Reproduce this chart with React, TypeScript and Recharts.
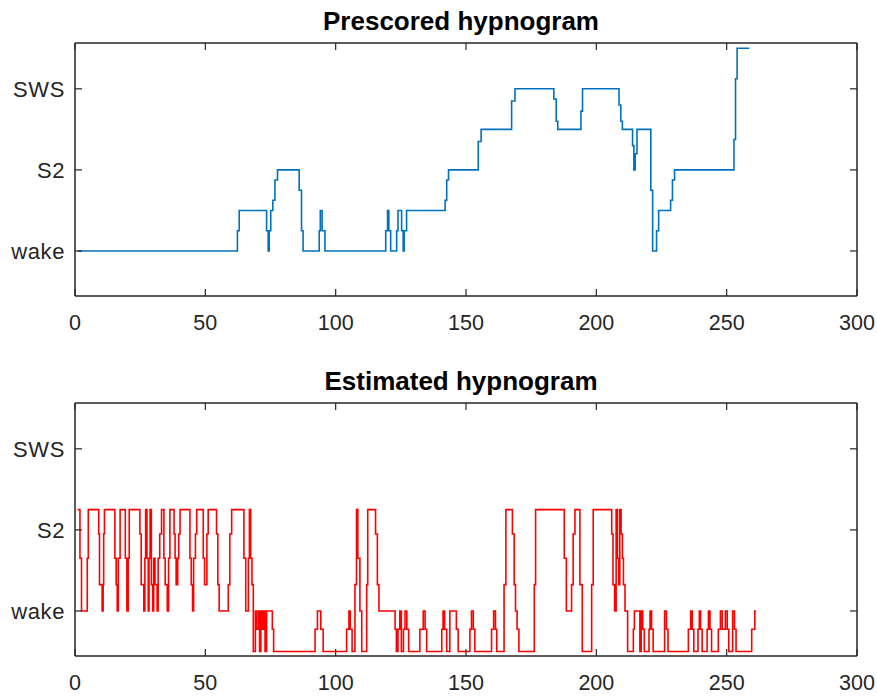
import { Line, LineChart, XAxis, YAxis } from "recharts";

const xTicks = [0, 50, 100, 150, 200, 250, 300];
const stageTicks = [0, 2, 4];
const stageLabels = ["wake", "S2", "SWS"];

// prescored hypnogram (blue), step breakpoints: time, stage
const prescoredTime = [
  1, 62.3, 63.0, 73.5, 74.1, 74.5, 75.1, 75.9, 76.7, 77.7, 86.0, 86.9, 87.5, 93.7, 94.1, 94.8, 95.9,
  119.2, 119.9, 120.4, 121.1, 123.4, 123.9, 125.3, 125.9, 126.3, 127.2, 142.0, 142.6, 143.3, 154.7,
  155.8, 167.5, 168.8, 183.7, 184.6, 185.2, 194.1, 194.7, 208.7, 209.4, 210.0, 213.9, 214.4, 214.9,
  215.6, 220.9, 221.6, 223.1, 223.9, 228.5, 229.2, 230.0, 252.8, 253.4, 254.0, 258.7,
];
const prescoredStage = [
  0, 0.5, 1, 0.5, 0, 0.5, 1, 1.25, 1.75, 2, 1.5, 0.5, 0, 0.5, 1, 0.5, 0,
  0.5, 1, 0.5, 0, 0.5, 1, 0.5, 0, 0.5, 1, 1.25, 1.75, 2, 2.7,
  3, 3.7, 4, 3.75, 3.2, 3, 3.45, 4, 3.6, 3.2, 3, 2.6, 2, 2.4,
  3, 1.5, 0, 0.5, 1, 1.25, 1.75, 2, 2.75, 4.25, 5, 5,
];

// estimated hypnogram (red)
const estimatedTime = [
  1, 1.9, 2.5, 4.7, 5.1, 9.1, 9.4, 10.4, 10.8, 11.0, 11.3, 15.3, 15.8, 16.2, 16.6, 17.3, 19.3, 19.9,
  20.4, 20.8, 24.9, 25.4, 26.4, 26.8, 27.1, 27.6, 28.1, 28.4, 28.8, 29.3, 29.8, 30.2, 30.7, 31.5,
  31.9, 32.5, 33.2, 34.1, 34.6, 35.4, 35.9, 36.4, 38.0, 38.4, 38.8, 39.4, 39.8, 40.3, 44.1, 44.6,
  45.1, 45.5, 46.2, 46.7, 49.2, 49.7, 50.6, 51.1, 54.3, 54.8, 55.3, 58.8, 59.4, 60.1, 64.8, 65.5,
  66.5, 66.9, 67.4, 67.9, 68.4, 69.2, 69.6, 70.3, 70.8, 71.3, 71.9, 72.4, 72.9, 73.5, 75.7, 76.2,
  92.1, 93.0, 94.3, 95.2, 104.2, 105.1, 105.6, 106.3, 107.4, 108.0, 108.5, 109.3, 110.0, 111.9,
  112.3, 115.3, 116.0, 116.6, 122.8, 123.3, 123.9, 124.6, 125.2, 126.0, 126.6, 127.3, 128.0, 132.3,
  133.6, 134.3, 134.9, 140.7, 141.2, 141.8, 142.6, 143.8, 146.3, 147.0, 151.5, 152.1, 152.8, 153.4,
  159.8, 160.6, 161.3, 161.8, 164.6, 165.3, 167.8, 168.5, 169.0, 169.6, 170.3, 176.2, 176.7, 187.7,
  188.5, 190.5, 191.1, 191.8, 193.7, 194.6, 198.2, 198.8, 205.9, 206.4, 207.0, 207.6, 208.1, 208.6,
  209.0, 209.5, 210.0, 210.4, 211.0, 212.0, 214.2, 214.6, 216.7, 217.2, 217.8, 218.4, 220.2, 220.6,
  221.2, 221.8, 226.2, 226.9, 227.5, 235.3, 236.2, 236.8, 237.4, 239.0, 239.5, 240.0, 240.6, 242.5,
  243.0, 243.6, 244.2, 246.8, 247.6, 248.3, 249.5, 250.2, 250.8, 252.3, 253.0, 253.6, 259.6, 260.8,
  261.3,
];
const estimatedStage = [
  2.5, 1.3, 0, 1.3, 2.5, 1.9, 0.65, 0, 0.65, 1.9, 2.5, 1.3, 0.65, 0, 1.3, 2.5, 1.3, 0,
  1.3, 2.5, 1.9, 0.65, 0, 1.3, 2.5, 1.3, 0, 1.3, 2.5, 0.65, 0, 1.3, 0.65, 0,
  1.3, 1.9, 2.5, 1.3, 0.65, 0, 1.3, 2.5, 1.9, 1.3, 0.65, 1.3, 1.9, 2.5, 1.3, 0.65,
  0, 1.3, 1.9, 2.5, 1.3, 0.65, 1.9, 2.5, 1.9, 0.65, 0, 0.65, 1.9, 2.5, 1.3, 0,
  1.3, 2.5, 1.3, 0.65, -1, 0, -0.45, 0, -1, 0, -0.45, 0, -1, 0, -0.45, -1,
  -0.45, 0, -0.45, -1, -0.45, 0, -0.45, -1, 0.65, 2.5, 1.3, 0, -1, 0.65,
  2.5, 1.9, 0.65, 0, -0.45, -1, -0.45, 0, -1, -0.45, 0, -0.45, -1, -0.45,
  0, -0.45, -1, -0.45, 0, -0.45, -1, 0, -0.45, -1, -0.45, 0, -0.45, -1,
  -0.45, 0, -0.45, -1, 0.65, 2.5, 1.9, 0.65, 0, -0.45, -1, 0.65, 2.5, 1.3,
  0, 0.65, 1.9, 2.5, 0.65, -1, 0.65, 2.5, 1.9, 0.65, 0, 2.5, 1.3, 0.65,
  2.5, 1.9, 1.3, 0.65, 0, -1, -0.45, 0, -1, 0, -0.45, -1, -0.45, 0,
  -0.45, -1, 0, -0.45, -1, -0.45, 0, -0.45, -1, -0.45, 0, -0.45, -1, -0.45,
  0, -0.45, -1, -0.45, 0, -0.45, 0, -0.45, -1, 0, -0.45, -1, -0.45, 0,
  0,
];

const FONT = '"Liberation Sans", Arial, Helvetica, sans-serif';
const AXIS = "#262626";
const Y_DOMAIN: [number, number] = [-1.11, 5.13];

function Hypnogram({
  title,
  time,
  stage,
  color,
  top,
  height,
  xAxisHeight,
  titleTop,
}: {
  title: string;
  time: number[];
  stage: number[];
  color: string;
  top: number;
  height: number;
  xAxisHeight: number;
  titleTop: number;
}) {
  const data = time.map((t, i) => ({ t, v: stage[i] }));
  const axisLine = { stroke: AXIS, strokeWidth: 1.5 };
  const tickLine = { stroke: AXIS, strokeWidth: 1.2 };

  return (
    <div style={{ position: "absolute", left: 0, top, width: 877, height }}>
      <div
        style={{
          position: "absolute",
          left: 0,
          width: 922,
          top: titleTop,
          textAlign: "center",
          fontFamily: FONT,
          fontWeight: "bold",
          fontSize: 26,
          color: "#000",
          whiteSpace: "nowrap",
        }}
      >
        {title}
      </div>
      <LineChart width={877} height={height} data={data} margin={{ top: 42, right: 19, bottom: 0, left: 0 }}>
        <XAxis
          dataKey="t"
          type="number"
          domain={[0, 300]}
          ticks={xTicks}
          allowDataOverflow
          height={xAxisHeight}
          axisLine={axisLine}
          tickLine={tickLine}
          tickSize={-7}
          tickMargin={26}
          tick={{ fontSize: 21.5, fill: AXIS, fontFamily: FONT }}
        />
        <XAxis
          xAxisId="top"
          orientation="top"
          dataKey="t"
          type="number"
          domain={[0, 300]}
          ticks={xTicks}
          allowDataOverflow
          height={1}
          axisLine={axisLine}
          tickLine={tickLine}
          tickSize={-7}
          tickFormatter={() => ""}
        />
        <YAxis
          type="number"
          domain={Y_DOMAIN}
          ticks={stageTicks}
          allowDataOverflow
          width={75}
          axisLine={axisLine}
          tickLine={tickLine}
          tickSize={-7}
          tickMargin={17}
          tick={{ fontSize: 22, fill: AXIS, fontFamily: FONT, letterSpacing: 0.6 }}
          tickFormatter={(v: number) => stageLabels[stageTicks.indexOf(v)] ?? ""}
        />
        <YAxis
          yAxisId="right"
          orientation="right"
          type="number"
          domain={Y_DOMAIN}
          ticks={stageTicks}
          allowDataOverflow
          width={1}
          axisLine={axisLine}
          tickLine={tickLine}
          tickSize={-7}
          tickFormatter={() => ""}
        />
        <Line
          xAxisId="top"
          yAxisId="right"
          type="stepAfter"
          dataKey="v"
          stroke="none"
          dot={false}
          activeDot={false}
          isAnimationActive={false}
        />
        <Line
          type="stepAfter"
          dataKey="v"
          stroke={color}
          strokeWidth={1.6}
          dot={false}
          activeDot={false}
          isAnimationActive={false}
        />
      </LineChart>
    </div>
  );
}

export default function App() {
  return (
    <div style={{ position: "absolute", left: 0, top: 0, width: 877, height: 697, background: "#fff" }}>
      <Hypnogram
        title="Prescored hypnogram"
        time={prescoredTime}
        stage={prescoredStage}
        color="#0072BD"
        top={0}
        height={340}
        xAxisHeight={44}
        titleTop={6}
      />
      <Hypnogram
        title="Estimated hypnogram"
        time={estimatedTime}
        stage={estimatedStage}
        color="#FF0000"
        top={360}
        height={337}
        xAxisHeight={41}
        titleTop={5.5}
      />
    </div>
  );
}
